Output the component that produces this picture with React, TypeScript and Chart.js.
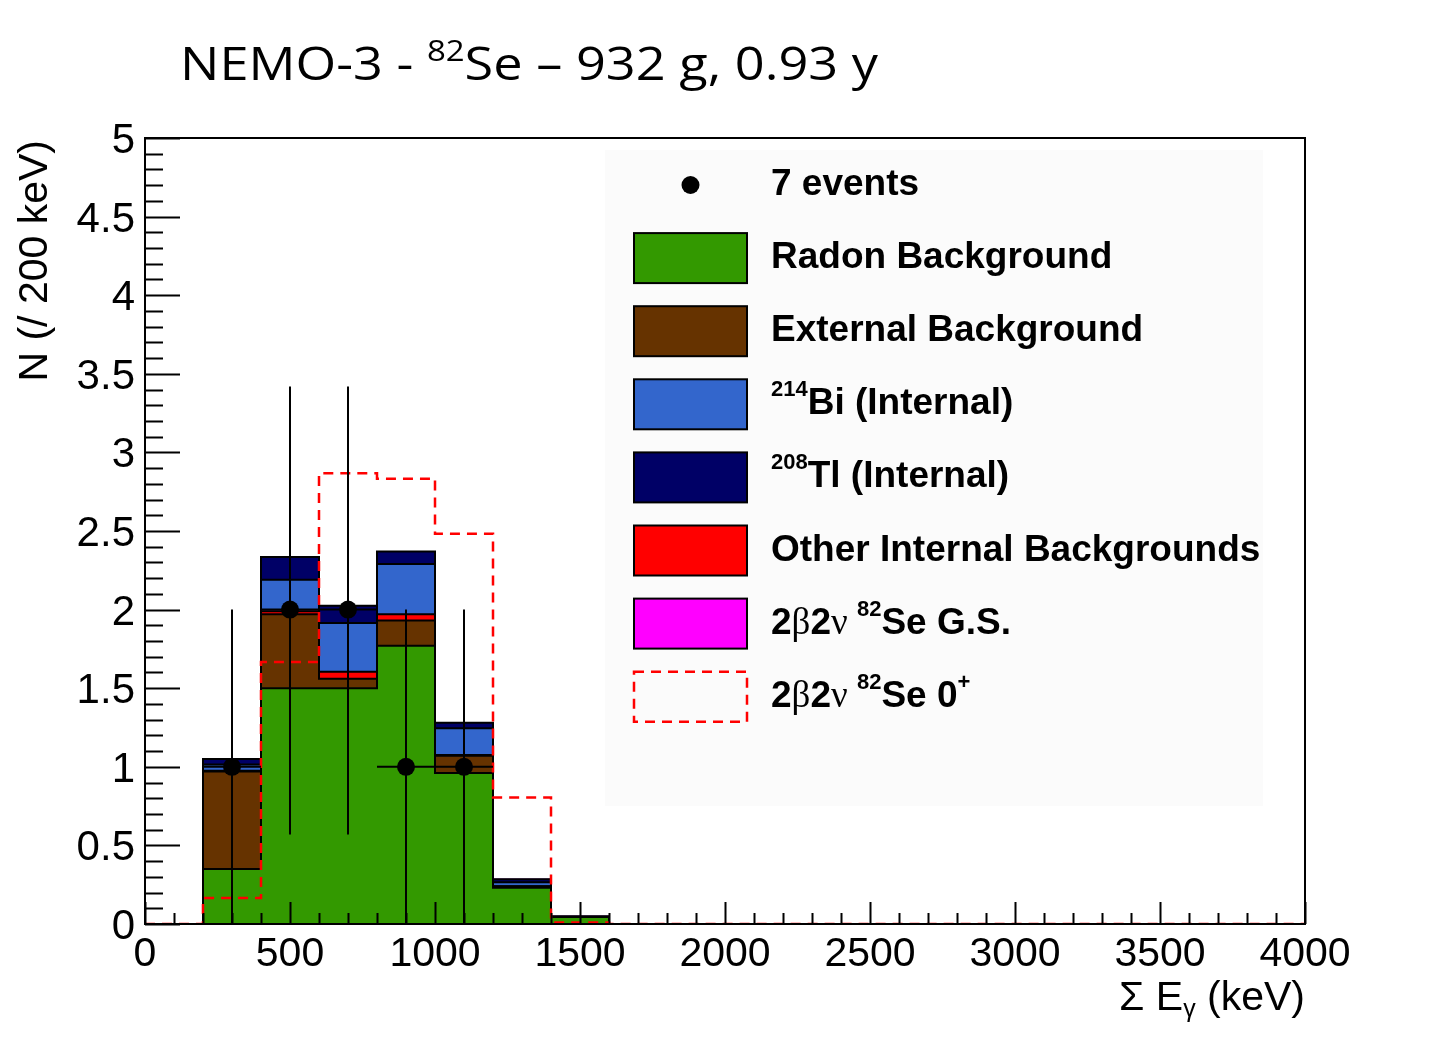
import React, { useEffect, useRef } from "react";
import { Chart, registerables } from "chart.js";

Chart.register(...registerables);

// 200 keV bins, 0 - 4000 keV (left edge of each bin)
const binLow = [0, 200, 400, 600, 800, 1000, 1200, 1400, 1600, 1800, 2000, 2200, 2400, 2600, 2800, 3000, 3200, 3400, 3600, 3800];
const BIN_W = 200;

// stacked MC components, bottom to top
const radon = [0, 0.35, 1.5, 1.5, 1.77, 0.96, 0.23, 0.045, 0, 0, 0, 0, 0, 0, 0, 0, 0, 0, 0, 0];
const external = [0, 0.62, 0.47, 0.06, 0.16, 0.11, 0.01, 0, 0, 0, 0, 0, 0, 0, 0, 0, 0, 0, 0, 0];
const otherInternal = [0, 0.005, 0.02, 0.045, 0.04, 0.005, 0, 0, 0, 0, 0, 0, 0, 0, 0, 0, 0, 0, 0, 0];
const bi214 = [0, 0.04, 0.2, 0.31, 0.32, 0.17, 0.025, 0, 0, 0, 0, 0, 0, 0, 0, 0, 0, 0, 0, 0];
const tl208 = [0, 0.035, 0.145, 0.11, 0.08, 0.035, 0.02, 0.005, 0, 0, 0, 0, 0, 0, 0, 0, 0, 0, 0, 0];
const se82gs = [0, 0, 0, 0, 0, 0, 0, 0, 0, 0, 0, 0, 0, 0, 0, 0, 0, 0, 0, 0];
// 2b2v to 0+ excited state (dashed)
const se82ex = [0, 0.165, 1.667, 2.867, 2.833, 2.483, 0.805, 0.01, 0, 0, 0, 0, 0, 0, 0, 0, 0, 0, 0, 0];

// data: 7 events
const eventE = [300, 500, 700, 900, 1100];
const eventN = [1, 2, 2, 1, 1];
const eventLo = [0, 0.57, 0.57, 0, 0];
const eventHi = [2.0, 3.42, 3.42, 2.0, 2.0];

const xTicks = [0, 500, 1000, 1500, 2000, 2500, 3000, 3500, 4000];
const yTicks = [0, 0.5, 1, 1.5, 2, 2.5, 3, 3.5, 4, 4.5, 5];

const COL = {
  radon: "#339900",
  external: "#663300",
  other: "#ff0000",
  bi: "#3366cc",
  tl: "#000066",
  gs: "#ff00ff",
};

const TICK_FONT = "Liberation Sans";

const steps = (vals: number[]) => [
  ...vals.map((v, i) => ({ x: binLow[i], y: v })),
  { x: binLow[binLow.length - 1] + BIN_W, y: vals[vals.length - 1] },
];

const cumulative = (layers: number[][]) => {
  const out: number[][] = [];
  let run = binLow.map(() => 0);
  layers.forEach((l) => {
    run = run.map((v, i) => v + l[i]);
    out.push(run);
  });
  return out;
};

type Seg = { t: string; size: number; dy?: number; weight?: string; family?: string };

function drawRich(
  ctx: CanvasRenderingContext2D,
  segs: Seg[],
  x: number,
  y: number,
  o: { family: string; weight: string; align?: "left" | "right"; width?: number; color?: string }
) {
  const fontOf = (s: Seg) => `${s.weight ?? o.weight} ${s.size}px "${s.family ?? o.family}"`;
  let total = 0;
  const widths = segs.map((s) => {
    ctx.font = fontOf(s);
    const w = ctx.measureText(s.t).width;
    total += w;
    return w;
  });
  const sx = o.width ? o.width / total : 1;
  const x0 = o.align === "right" ? -total : 0;
  ctx.save();
  ctx.translate(x, y);
  ctx.scale(sx, 1);
  ctx.fillStyle = o.color ?? "#000";
  ctx.textAlign = "left";
  ctx.textBaseline = "alphabetic";
  let cx = x0;
  segs.forEach((s, i) => {
    ctx.font = fontOf(s);
    ctx.fillText(s.t, cx, s.dy ?? 0);
    cx += widths[i];
  });
  ctx.restore();
}

const LEG = 37;
const SUP = 22;
const legendRows: { kind: string; fill?: string; segs: Seg[] }[] = [
  { kind: "marker", segs: [{ t: "7 events", size: LEG }] },
  { kind: "box", fill: COL.radon, segs: [{ t: "Radon Background", size: LEG }] },
  { kind: "box", fill: COL.external, segs: [{ t: "External Background", size: LEG }] },
  { kind: "box", fill: COL.bi, segs: [{ t: "214", size: SUP, dy: -18 }, { t: "Bi (Internal)", size: LEG }] },
  { kind: "box", fill: COL.tl, segs: [{ t: "208", size: SUP, dy: -18 }, { t: "Tl (Internal)", size: LEG }] },
  { kind: "box", fill: COL.other, segs: [{ t: "Other Internal Backgrounds", size: LEG }] },
  {
    kind: "box",
    fill: COL.gs,
    segs: [
      { t: "2", size: LEG },
      { t: "β", size: LEG, weight: "normal", family: "Liberation Serif" },
      { t: "2", size: LEG },
      { t: "ν ", size: LEG, weight: "normal", family: "Liberation Serif" },
      { t: "82", size: SUP, dy: -18 },
      { t: "Se G.S.", size: LEG },
    ],
  },
  {
    kind: "dashed",
    segs: [
      { t: "2", size: LEG },
      { t: "β", size: LEG, weight: "normal", family: "Liberation Serif" },
      { t: "2", size: LEG },
      { t: "ν ", size: LEG, weight: "normal", family: "Liberation Serif" },
      { t: "82", size: SUP, dy: -18 },
      { t: "Se 0", size: LEG },
      { t: "+", size: SUP, dy: -18 },
    ],
  },
];

const POINTS_INDEX = 6 + 5 + 1;

const rootStyle = {
  id: "rootStyle",
  beforeDatasetsDraw(chart: any) {
    const { ctx, chartArea: a } = chart;
    ctx.save();
    ctx.fillStyle = "#fbfbfb";
    ctx.fillRect(a.left + 460, a.top + 12, 658, 656);
    ctx.restore();
  },
  beforeDatasetDraw(chart: any, args: any) {
    if (args.index !== POINTS_INDEX) return;
    const { ctx } = chart;
    const xs = chart.scales.x;
    const ys = chart.scales.y;
    ctx.save();
    ctx.strokeStyle = "#000";
    ctx.lineWidth = 2;
    eventE.forEach((e, i) => {
      const px = xs.getPixelForValue(e);
      const py = ys.getPixelForValue(eventN[i]);
      ctx.beginPath();
      ctx.moveTo(px, ys.getPixelForValue(eventLo[i]));
      ctx.lineTo(px, ys.getPixelForValue(eventHi[i]));
      ctx.moveTo(xs.getPixelForValue(e - BIN_W / 2), py);
      ctx.lineTo(xs.getPixelForValue(e + BIN_W / 2), py);
      ctx.stroke();
    });
    ctx.restore();
  },
  afterDraw(chart: any) {
    const { ctx, chartArea: a } = chart;
    const xs = chart.scales.x;
    const ys = chart.scales.y;
    ctx.save();
    ctx.strokeStyle = "#000";
    ctx.lineWidth = 2;
    // inward ticks
    ctx.beginPath();
    for (let k = 0; k <= 50; k++) {
      const py = Math.round(ys.getPixelForValue(k / 10)) + 0.5;
      const len = k % 5 === 0 ? 35 : 18;
      ctx.moveTo(a.left, py);
      ctx.lineTo(a.left + len, py);
    }
    for (let k = 0; k <= 40; k++) {
      const px = Math.round(xs.getPixelForValue(k * 100)) + 0.5;
      const len = k % 5 === 0 ? 22 : 11;
      ctx.moveTo(px, a.bottom);
      ctx.lineTo(px, a.bottom - len);
    }
    ctx.stroke();
    ctx.strokeRect(a.left, a.top, a.right - a.left, a.bottom - a.top);
    ctx.restore();

    // y tick labels, centred on the ticks
    yTicks.forEach((v) => {
      drawRich(ctx, [{ t: String(v), size: 42 }], a.left - 10, ys.getPixelForValue(v) + 15, {
        family: TICK_FONT,
        weight: "normal",
        align: "right",
      });
    });

    // title
    drawRich(
      ctx,
      [
        { t: "NEMO-3 - ", size: 46 },
        { t: "82", size: 29, dy: -19 },
        { t: "Se \u2013 932 g, 0.93 y", size: 46 },
      ],
      180,
      80,
      { family: "Open Sans", weight: "normal", width: 698 }
    );

    // y axis title
    ctx.save();
    ctx.translate(47, a.top + 2);
    ctx.rotate(-Math.PI / 2);
    drawRich(ctx, [{ t: "N (/ 200 keV)", size: 41 }], 0, 0, {
      family: TICK_FONT,
      weight: "normal",
      align: "right",
    });
    ctx.restore();

    // x axis title
    drawRich(
      ctx,
      [
        { t: "\u03a3 E", size: 41 },
        { t: "\u03b3", size: 25, dy: 7 },
        { t: " (keV)", size: 41 },
      ],
      a.right,
      a.bottom + 86,
      { family: TICK_FONT, weight: "normal", align: "right" }
    );

    // legend
    const bx = a.left + 489;
    const bw = 113;
    const bh = 50;
    const tx = a.left + 626;
    legendRows.forEach((row, i) => {
      const cy = a.top + 47 + i * 73.1;
      ctx.save();
      if (row.kind === "marker") {
        ctx.fillStyle = "#000";
        ctx.beginPath();
        ctx.arc(bx + bw / 2, cy, 9, 0, Math.PI * 2);
        ctx.fill();
      } else if (row.kind === "box") {
        ctx.fillStyle = row.fill;
        ctx.fillRect(bx, cy - bh / 2, bw, bh);
        ctx.strokeStyle = "#000";
        ctx.lineWidth = 2;
        ctx.strokeRect(bx, cy - bh / 2, bw, bh);
      } else {
        ctx.strokeStyle = "#ff0000";
        ctx.lineWidth = 2.5;
        ctx.setLineDash([10, 7]);
        ctx.strokeRect(bx, cy - bh / 2, bw, bh);
      }
      ctx.restore();
      drawRich(ctx, row.segs, tx, cy + 10, { family: TICK_FONT, weight: "bold" });
    });
  },
};

export default function App() {
  const canvasRef = useRef<HTMLCanvasElement | null>(null);

  useEffect(() => {
    let chart: Chart | null = null;
    if (canvasRef.current) {
      const centers = binLow.map((b) => b + BIN_W / 2);
      const layers = [
        { label: "Radon Background", data: radon, color: COL.radon },
        { label: "External Background", data: external, color: COL.external },
        { label: "Other Internal Backgrounds", data: otherInternal, color: COL.other },
        { label: "214Bi (Internal)", data: bi214, color: COL.bi },
        { label: "208Tl (Internal)", data: tl208, color: COL.tl },
        { label: "2b2v 82Se G.S.", data: se82gs, color: COL.gs },
      ];
      const barSets = layers.map((l) => ({
        type: "bar",
        label: l.label,
        data: l.data.map((v, i) => ({ x: centers[i], y: v })),
        backgroundColor: l.color,
        borderWidth: 0,
        categoryPercentage: 1.0,
        barPercentage: 1.0,
        order: 10,
      }));
      const cum = cumulative(layers.slice(0, 5).map((l) => l.data));
      const outlineSets = cum.map((c, i) => ({
        type: "line",
        label: "outline " + i,
        data: steps(c),
        yAxisID: "y2",
        borderColor: "#000",
        borderWidth: 2,
        pointRadius: 0,
        stepped: true,
        fill: false,
        order: 5,
      }));
      const dashedSet = {
        type: "line",
        label: "2b2v 82Se 0+",
        data: steps(se82ex),
        yAxisID: "y2",
        borderColor: "#ff0000",
        borderWidth: 2.5,
        borderDash: [10, 7],
        pointRadius: 0,
        stepped: true,
        fill: false,
        order: 2,
      };
      const pointSet = {
        type: "line",
        label: "7 events",
        data: eventE.map((e, i) => ({ x: e, y: eventN[i] })),
        yAxisID: "y2",
        showLine: false,
        pointRadius: 9,
        pointBackgroundColor: "#000",
        pointBorderColor: "#000",
        pointBorderWidth: 0,
        order: 1,
      };

      // @ts-ignore
      chart = new Chart(canvasRef.current, {
        type: "bar",
        data: { datasets: [...barSets, ...outlineSets, dashedSet, pointSet] },
        options: {
          animation: false,
          responsive: true,
          maintainAspectRatio: false,
          layout: { padding: { top: 138, right: 149, left: 0, bottom: 0 } },
          plugins: { legend: { display: false }, tooltip: { enabled: false } },
          scales: {
            x: {
              type: "linear",
              min: 0,
              max: 4000,
              offset: false,
              stacked: true,
              grid: { display: false, drawTicks: false, offset: false },
              border: { display: false },
              afterBuildTicks: (s: any) => {
                s.ticks = xTicks.map((v) => ({ value: v }));
              },
              afterFit: (s: any) => {
                s.height = 116;
              },
              ticks: {
                autoSkip: false,
                maxRotation: 0,
                color: "#000",
                padding: 6,
                font: { family: TICK_FONT, size: 41 },
                callback: (v: any) => String(v),
              },
            },
            y: {
              min: 0,
              max: 5,
              stacked: true,
              grid: { display: false, drawTicks: false },
              border: { display: false },
              afterBuildTicks: (s: any) => {
                s.ticks = yTicks.map((v) => ({ value: v }));
              },
              afterFit: (s: any) => {
                s.width = 145;
              },
              ticks: { display: false },
            },
            y2: { display: false, min: 0, max: 5 },
          },
        },
        plugins: [rootStyle],
      });
    }
    return () => {
      if (chart) chart.destroy();
    };
  }, []);

  return (
    <div style={{ position: "absolute", left: 0, top: 0, width: 1454, height: 1040, background: "#fff" }}>
      <canvas ref={canvasRef} />
    </div>
  );
}
